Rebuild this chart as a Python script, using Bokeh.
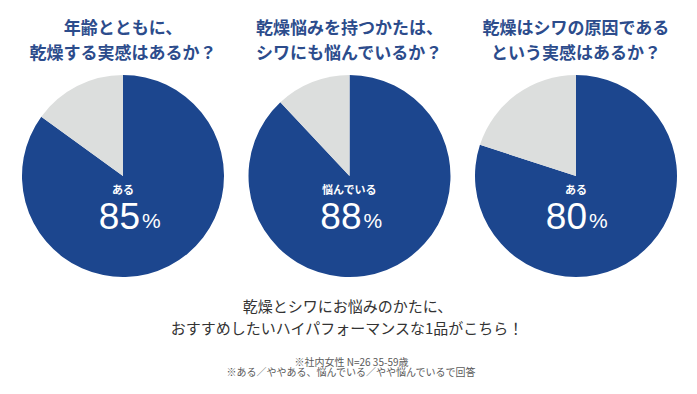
import math
from bokeh.plotting import figure
from bokeh.models import Range1d
from bokeh.core.properties import value
from bokeh.embed import file_html
from bokeh.resources import INLINE

# ---- data ----
titles = [
    ["年齢とともに、", "乾燥する実感はあるか？"],
    ["乾燥悩みを持つかたは、", "シワにも悩んでいるか？"],
    ["乾燥はシワの原因である", "という実感はあるか？"],
]
answer_labels = ["ある", "悩んでいる", "ある"]
yes_pct = [85, 88, 80]
footer_lines = ["乾燥とシワにお悩みのかたに、", "おすすめしたいハイパフォーマンスな1品がこちら！"]
note_lines = ["※社内女性 N=26 35-59歳", "※ある／ややある、悩んでいる／やや悩んでいるで回答"]

# ---- layout ----
W, H = 681, 378
BLUE = "#1c468e"
GRAY = "#dcdedd"
TITLE_C = "#2c4c8c"
JP = value("Noto Sans CJK JP")
NUM = value("Liberation Sans")

def X(px):
    return px

def Y(py):
    return H - py

p = figure(width=W, height=H, x_range=Range1d(0, W), y_range=Range1d(0, H),
           output_backend="svg", toolbar_location=None, min_border=0)
p.axis.visible = False
p.grid.visible = False
p.outline_line_color = None
p.background_fill_color = "white"
p.border_fill_color = "white"

centers = [122.5, 349, 575.5]
num_offset = [17, 12, 11]
cy = 175.5
R = 101

for i, cx in enumerate(centers):
    frac = yes_pct[i] / 100.0
    start = math.pi / 2
    end = start - 2 * math.pi * frac
    p.wedge(x=[X(cx)], y=[Y(cy)], radius=R, radius_units="screen",
            start_angle=[start], end_angle=[end], direction="clock",
            fill_color=BLUE, line_color=None)
    p.wedge(x=[X(cx)], y=[Y(cy)], radius=R, radius_units="screen",
            start_angle=[end], end_angle=[start - 2 * math.pi], direction="clock",
            fill_color=GRAY, line_color=None)
    # titles
    p.text(x=[X(cx)], y=[Y(26)], text=[titles[i][0]], text_font=JP,
           text_font_size="17px", text_font_style="bold", text_color=TITLE_C,
           text_align="center", text_baseline="middle")
    p.text(x=[X(cx)], y=[Y(51)], text=[titles[i][1]], text_font=JP,
           text_font_size="17px", text_font_style="bold", text_color=TITLE_C,
           text_align="center", text_baseline="middle")
    # labels
    p.text(x=[X(cx)], y=[Y(188)], text=[answer_labels[i]], text_font=JP,
           text_font_size="11px", text_font_style="bold", text_color="white",
           text_align="center", text_baseline="middle")
    p.text(x=[X(cx) + num_offset[i]], y=[Y(215)], text=[str(yes_pct[i])], text_font=NUM,
           text_font_size="37px", text_color="white",
           text_align="right", text_baseline="middle")
    p.text(x=[X(cx) + num_offset[i] + 2], y=[Y(220)], text=["%"], text_font=NUM,
           text_font_size="21px", text_color="white",
           text_align="left", text_baseline="middle")

mid = 347
p.text(x=[X(mid)], y=[Y(305)], text=[footer_lines[0]], text_font=JP,
       text_font_size="15px", text_color="#333333", text_align="center", text_baseline="middle")
p.text(x=[X(mid)], y=[Y(327)], text=[footer_lines[1]], text_font=JP,
       text_font_size="15px", text_color="#333333", text_align="center", text_baseline="middle")
p.text(x=[X(351)], y=[Y(361)], text=[note_lines[0]], text_font=JP,
       text_font_size="10px", text_color="#5a5a5a", text_align="center", text_baseline="middle")
p.text(x=[X(351)], y=[Y(371)], text=[note_lines[1]], text_font=JP,
       text_font_size="10px", text_color="#5a5a5a", text_align="center", text_baseline="middle")

open("out.html", "w").write(file_html(p, INLINE))
